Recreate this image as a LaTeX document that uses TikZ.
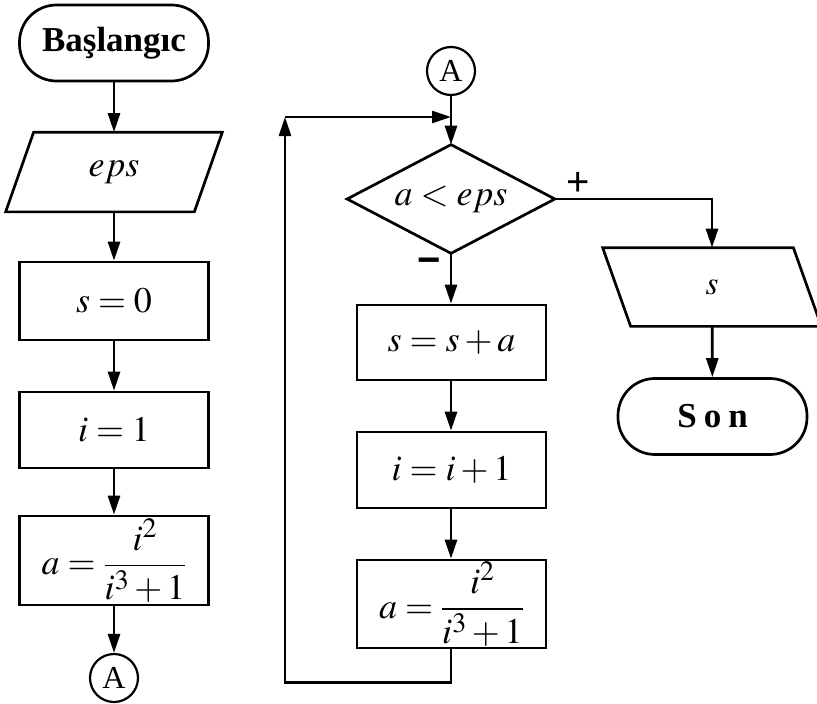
\documentclass[tikz,border=0pt]{standalone}
\usepackage{mathptmx}
\usepackage[no-math]{fontspec}
\setmainfont{Liberation Serif}
\newfontfamily\signfont{Liberation Sans}
\usetikzlibrary{arrows.meta}
\DeclareMathSizes{36}{36}{28}{20}
\DeclareMathSizes{33}{33}{24}{18}
\newcommand{\bigfrac}[2]{{\displaystyle\frac{#1}{#2}}}
\begin{document}
\begin{tikzpicture}[x=1pt,y=-1pt,line width=2.7pt,
  big/.style={font=\fontsize{36}{43}\selectfont},
  arr/.style={-{Triangle[length=19pt,width=12pt]}},
  box/.style={draw,big,minimum width=189pt,inner sep=0pt},
  term/.style={draw,rounded corners=37pt,minimum width=189pt,minimum height=76pt,
    inner sep=0pt,font=\fontsize{35}{42}\selectfont\bfseries},
  iotext/.style={big,minimum width=186pt,minimum height=77pt,inner sep=0pt},
  dectext/.style={big,minimum width=205pt,minimum height=106pt,inner sep=0pt},
  conn/.style={draw,circle,line width=2.2pt,minimum size=48pt,inner sep=0pt,
    font=\fontsize{32}{32}\selectfont},
  sign/.style={inner sep=0pt,font=\signfont\fontsize{40}{40}\selectfont}]
\useasboundingbox (0,0) rectangle (817,704);

% left column
\node[term] (start) at (114,43) {Başlangıc};
\node[iotext] (eps) at (114,172) {$eps$};
\draw ([xshift=14pt]eps.north west) -- ([xshift=14pt]eps.north east)
  -- ([xshift=-14pt]eps.south east) -- ([xshift=-14pt]eps.south west) -- cycle;
\node[box,minimum height=78pt] (s0) at (114,301) {$s=0$};
\node[box,minimum height=76pt] (i1) at (114,430) {$i=1$};
\node[box,minimum height=89pt] (a1) at (114,560.5) {$a=\bigfrac{i^{2}}{i^{3}+1}$};
\node[conn] (A1) at (114,678) {A};

\draw[arr] (start) -- (eps);
\draw[arr] (eps) -- (s0);
\draw[arr] (s0) -- (i1);
\draw[arr] (i1) -- (a1);
\draw[arr] (a1) -- (A1);

% loop column
\node[conn] (A2) at (451,71) {A};
\coordinate (join) at (451,117);
\coordinate (ret) at (285,117);
\node[dectext] (dec) at (451,199) {$a<eps$};
\draw (dec.north) -- (dec.east) -- (dec.south) -- (dec.west) -- cycle;
\node[box,minimum height=75pt] (s1) at (451.5,342.5) {$s=s+a$};
\node[box,minimum height=76pt] (i2) at (451.5,470) {$i=i+1$};
\node[box,minimum height=88pt] (a2) at (451.5,604) {$a=\bigfrac{i^{2}}{i^{3}+1}$};
\node[sign,font=\signfont\bfseries\fontsize{40}{40}\selectfont] (minus) at (429,266) {−};

\draw[arr] (A2) -- (dec.north);
\draw[arr] (dec.south) -- (dec.south |- s1.north);
\draw[arr] (s1.south -| dec.south) -- (dec.south |- i2.north);
\draw[arr] (i2.south -| dec.south) -- (dec.south |- a2.north);
\draw[arr] (a2.south -| dec.south) -- ++(0,33) -| (ret);
\draw[arr] (ret) -- (join);

% exit branch
\node[sign] (plus) at (578,184) {+};
\node[iotext,minimum width=188pt,minimum height=76pt,font=\fontsize{33}{40}\selectfont] (sout) at (712,287) {$s$};
\draw ([xshift=-14pt]sout.north west) -- ([xshift=-14pt]sout.north east)
  -- ([xshift=14pt]sout.south east) -- ([xshift=14pt]sout.south west) -- cycle;
\node[term] (son) at (712.5,416.5) {S\kern7pt o\kern7pt n};

\draw[arr] (dec.east) -| (sout.north);
\draw[arr] (sout) -- (son);
\end{tikzpicture}
\end{document}
